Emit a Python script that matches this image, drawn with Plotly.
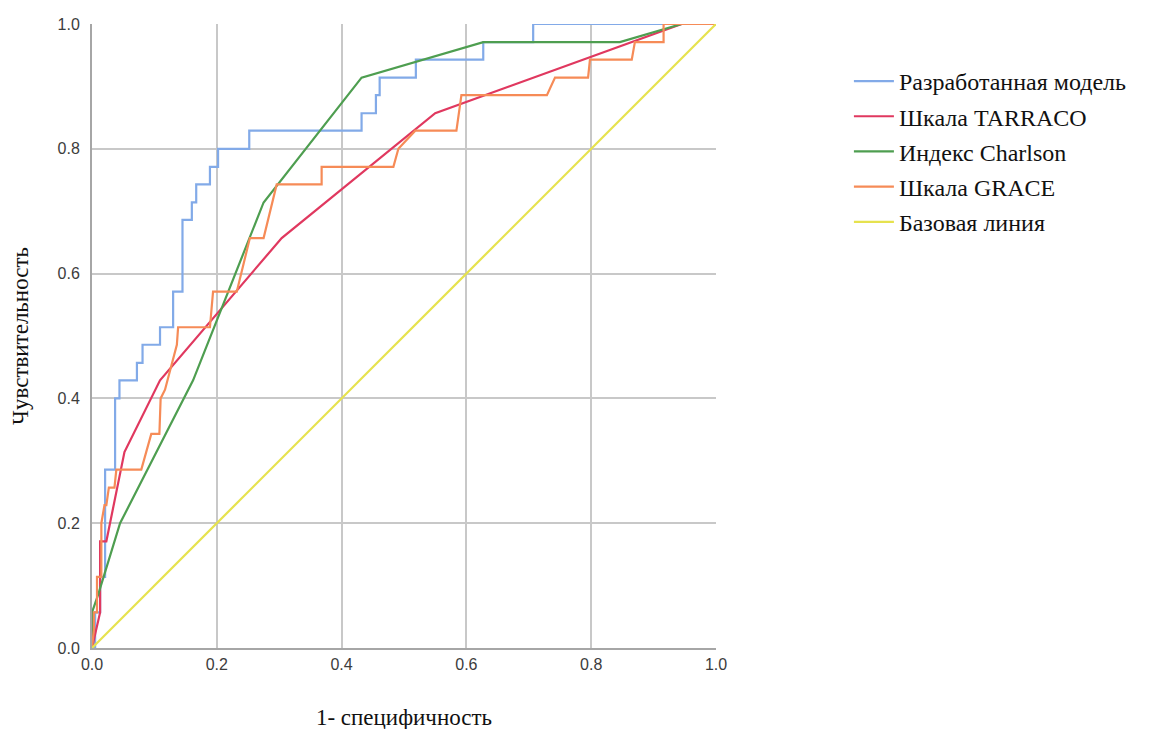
import plotly.graph_objects as go

# ROC curves (1 - specificity, sensitivity)
model_x = [0, 0.005, 0.005, 0.013, 0.013, 0.021, 0.021, 0.037, 0.037, 0.044, 0.044, 0.072, 0.072, 0.081, 0.081,
           0.109, 0.109, 0.130, 0.130, 0.145, 0.145, 0.160, 0.160, 0.167, 0.167, 0.189, 0.189, 0.202, 0.202,
           0.252, 0.252, 0.432, 0.432, 0.455, 0.455, 0.461, 0.461, 0.519, 0.519, 0.627, 0.627, 0.707, 0.707, 1.0]
model_y = [0, 0, 0.057, 0.057, 0.114, 0.114, 0.286, 0.286, 0.400, 0.400, 0.429, 0.429, 0.457, 0.457, 0.486,
           0.486, 0.514, 0.514, 0.571, 0.571, 0.686, 0.686, 0.714, 0.714, 0.743, 0.743, 0.771, 0.771, 0.800,
           0.800, 0.829, 0.829, 0.857, 0.857, 0.886, 0.886, 0.914, 0.914, 0.943, 0.943, 0.971, 0.971, 1.0, 1.0]

tarraco_x = [0, 0.013, 0.013, 0.023, 0.052, 0.109, 0.304, 0.550, 0.945, 1.0]
tarraco_y = [0, 0.057, 0.171, 0.171, 0.314, 0.429, 0.657, 0.857, 1.0, 1.0]

charlson_x = [0, 0, 0.010, 0.045, 0.162, 0.275, 0.432, 0.627, 0.846, 0.945, 1.0]
charlson_y = [0, 0.057, 0.086, 0.200, 0.429, 0.714, 0.914, 0.971, 0.971, 1.0, 1.0]

grace_x = [0, 0.003, 0.003, 0.008, 0.008, 0.015, 0.015, 0.020, 0.023, 0.027, 0.036, 0.039, 0.079, 0.095,
           0.108, 0.110, 0.117, 0.136, 0.138, 0.189, 0.194, 0.232, 0.253, 0.275, 0.296, 0.368, 0.368, 0.483,
           0.491, 0.518, 0.584, 0.592, 0.729, 0.742, 0.795, 0.798, 0.865, 0.870, 0.916, 0.916, 1.0]
grace_y = [0, 0.029, 0.057, 0.057, 0.114, 0.114, 0.200, 0.229, 0.229, 0.257, 0.257, 0.286, 0.286, 0.343,
           0.343, 0.400, 0.414, 0.486, 0.514, 0.514, 0.571, 0.571, 0.657, 0.657, 0.743, 0.743, 0.771, 0.771,
           0.800, 0.829, 0.829, 0.886, 0.886, 0.914, 0.914, 0.943, 0.943, 0.971, 0.971, 1.0, 1.0]

base_x = [0, 1]
base_y = [0, 1]

names = ["Разработанная модель", "Шкала TARRACO", "Индекс Charlson", "Шкала GRACE", "Базовая линия"]
colors = ["#82AAE8", "#E0385F", "#4E9E50", "#F68B57", "#E6E24E"]
series = [(model_x, model_y), (tarraco_x, tarraco_y), (charlson_x, charlson_y),
          (grace_x, grace_y), (base_x, base_y)]

ticks = [0.0, 0.2, 0.4, 0.6, 0.8, 1.0]
tick_text = ["0.0", "0.2", "0.4", "0.6", "0.8", "1.0"]

fig = go.Figure()
for i, ((xs, ys), name, col) in enumerate(zip(series, names, colors)):
    fig.add_trace(go.Scatter(x=xs, y=ys, mode="lines", name=name, legendgroup=f"g{i}",
                             line=dict(color=col, width=2.2)))

axis_common = dict(
    range=[0, 1], tickvals=ticks, ticktext=tick_text, showgrid=True, gridcolor="#C8C8C8", gridwidth=1.5,
    zeroline=False, showline=True, linecolor="#A6A6A6", linewidth=2, ticks="",
    tickfont=dict(family="Liberation Sans, Arial", size=16, color="#3C3C3C"),
)
title_font = dict(family="Liberation Serif, Times New Roman", size=23, color="#111")

fig.update_xaxes(**axis_common, ticklabelstandoff=1,
                 title=dict(text="1- специфичность", standoff=37, font=title_font))
fig.update_yaxes(**axis_common, ticklabelstandoff=7,
                 title=dict(text="Чувствительность", standoff=24, font=title_font))

fig.update_layout(
    width=1162, height=729,
    margin=dict(l=84, r=454, t=16, b=89, autoexpand=False),
    plot_bgcolor="white", paper_bgcolor="white",
    showlegend=True,
    legend=dict(x=1.213, y=0.944, xanchor="left", yanchor="top",
                font=dict(family="Liberation Serif, Times New Roman", size=24, color="#111"),
                tracegroupgap=1, itemwidth=40, bgcolor="rgba(0,0,0,0)"),
)

fig.write_html("out.html")
